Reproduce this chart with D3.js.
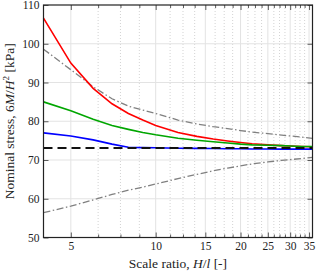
<!DOCTYPE html>
<html><head><meta charset="utf-8">
<script src="https://cdn.jsdelivr.net/npm/d3@7/dist/d3.min.js"></script>
<style>
html,body{margin:0;padding:0;background:#fff;}
svg text{font-family:"Liberation Serif","DejaVu Serif",serif;fill:#222;}
</style></head>
<body><svg id="c" width="316" height="274"></svg>
<script>
const xs = [4,5,6,7,8,9,10,12,14,16,18,20,22,25,28,30,33,36];
const redVals   = [106.6,95.0,88.5,84.5,82.0,80.3,78.9,77.1,76.1,75.4,74.9,74.5,74.2,73.9,73.7,73.6,73.5,73.4];
const greenVals = [85.0,82.7,80.5,78.9,77.9,77.1,76.5,75.6,75.1,74.7,74.4,74.1,73.9,73.8,73.7,73.6,73.5,73.5];
const blueVals  = [77.0,76.2,75.2,74.1,73.3,73.2,73.15,73.05,73.0,72.95,72.9,72.9,72.85,72.85,72.8,72.8,72.8,72.8];
const upperVals = [98.6,93.3,88.9,85.8,83.9,82.9,82.0,80.3,79.3,78.6,78.1,77.6,77.2,76.8,76.4,76.2,75.9,75.6];
const lowerVals = [56.4,58.1,59.7,61.1,62.2,63.0,63.8,65.2,66.3,67.2,67.9,68.5,69.0,69.5,69.9,70.1,70.4,70.7];
const refValue = 73.1;
const xMajor = [5,10,15,20,25,30,35];
const xMinor = [6.25,7.5,8.75,11.25,12.5,13.75,16.25,17.5,18.75,21.25,22.5,23.75,26.25,27.5,28.75,31.25,32.5,33.75];
const yTicks = [50,60,70,80,90,100,110];
const xDomain = [4,36];
const yDomain = [50,110];

const L=43.5, R=312.5, T=5, B=237.5;
const svg = d3.select("#c");
const x = d3.scaleLog().domain(xDomain).range([L,R]);
const y = d3.scaleLinear().domain(yDomain).range([B,T]);

// grid
const g = svg.append("g");
g.selectAll(".mn").data(xMinor).enter().append("line")
  .attr("x1",d=>x(d)).attr("x2",d=>x(d)).attr("y1",T).attr("y2",B)
  .attr("stroke","#c8c8c8").attr("stroke-width",0.8).attr("stroke-dasharray","1,2");
g.selectAll(".mj").data(xMajor).enter().append("line")
  .attr("x1",d=>x(d)).attr("x2",d=>x(d)).attr("y1",T).attr("y2",B)
  .attr("stroke","#e3e3e3").attr("stroke-width",1);
g.selectAll(".hy").data(yTicks.slice(1,-1)).enter().append("line")
  .attr("x1",L).attr("x2",R).attr("y1",d=>y(d)).attr("y2",d=>y(d))
  .attr("stroke","#e3e3e3").attr("stroke-width",1);

const pts = vals => xs.map((v,i)=>[v,vals[i]]);
const line = d3.line().x(d=>x(d[0])).y(d=>y(d[1]));

svg.append("path").datum(pts(upperVals)).attr("d",line).attr("fill","none")
  .attr("stroke","#808080").attr("stroke-width",1.3).attr("stroke-dasharray","7,2.5,1.5,2.5");
svg.append("path").datum(pts(lowerVals)).attr("d",line).attr("fill","none")
  .attr("stroke","#808080").attr("stroke-width",1.3).attr("stroke-dasharray","7,2.5,1.5,2.5");
svg.append("path").datum(pts(redVals)).attr("d",line).attr("fill","none")
  .attr("stroke","#ff0000").attr("stroke-width",1.6);
svg.append("path").datum(pts(greenVals)).attr("d",line).attr("fill","none")
  .attr("stroke","#00a600").attr("stroke-width",1.6);
svg.append("path").datum(pts(blueVals)).attr("d",line).attr("fill","none")
  .attr("stroke","#0000ff").attr("stroke-width",1.6);
svg.append("line").attr("x1",x(xDomain[0])).attr("x2",x(xDomain[1]))
  .attr("y1",y(refValue)).attr("y2",y(refValue))
  .attr("stroke","#111").attr("stroke-width",1.8).attr("stroke-dasharray","9,5");

// axes
const ax = svg.append("g").attr("transform",`translate(0,${B})`)
  .call(d3.axisBottom(x).tickValues(xMajor).tickFormat(d3.format("d")).tickSizeInner(-5).tickSizeOuter(0).tickPadding(4));
const axTop = svg.append("g").attr("transform",`translate(0,${T})`)
  .call(d3.axisTop(x).tickValues(xMajor).tickFormat("").tickSizeInner(-5).tickSizeOuter(0));
const axMinB = svg.append("g").attr("transform",`translate(0,${B})`)
  .call(d3.axisBottom(x).tickValues(xMinor).tickFormat("").tickSizeInner(-3).tickSizeOuter(0));
const axMinT = svg.append("g").attr("transform",`translate(0,${T})`)
  .call(d3.axisTop(x).tickValues(xMinor).tickFormat("").tickSizeInner(-3).tickSizeOuter(0));
const ay = svg.append("g").attr("transform",`translate(${L},0)`)
  .call(d3.axisLeft(y).tickValues(yTicks).tickSizeInner(-5).tickSizeOuter(0).tickPadding(4));
const ayR = svg.append("g").attr("transform",`translate(${R},0)`)
  .call(d3.axisRight(y).tickValues(yTicks).tickFormat("").tickSizeInner(-5).tickSizeOuter(0));
[ax,axTop,axMinB,axMinT,ay,ayR].forEach(a=>{
  a.select(".domain").remove();
  a.selectAll("line").attr("stroke","#333").attr("stroke-width",0.8);
  a.selectAll("text").attr("font-family","Liberation Serif, serif").attr("font-size",11.5).attr("fill","#333");
});
svg.append("rect").attr("x",L).attr("y",T).attr("width",R-L).attr("height",B-T)
  .attr("fill","none").attr("stroke","#222").attr("stroke-width",1.2);

// labels
const xl = svg.append("text").attr("x",(L+R)/2).attr("y",268).attr("text-anchor","middle").attr("font-size",13.5);
xl.append("tspan").text("Scale ratio, ");
xl.append("tspan").attr("font-style","italic").text("H");
xl.append("tspan").text("/");
xl.append("tspan").attr("font-style","italic").text("l");
xl.append("tspan").text(" [-]");

const yl = svg.append("text").attr("transform",`translate(14,${(T+B)/2}) rotate(-90)`)
  .attr("text-anchor","middle").attr("font-size",13.5);
yl.append("tspan").text("Nominal stress, 6");
yl.append("tspan").attr("font-style","italic").text("M");
yl.append("tspan").text("/");
yl.append("tspan").attr("font-style","italic").text("H");
yl.append("tspan").attr("font-size",9).attr("dy",-5).text("2");
yl.append("tspan").attr("dy",5).text(" [kPa]");
</script></body></html>
